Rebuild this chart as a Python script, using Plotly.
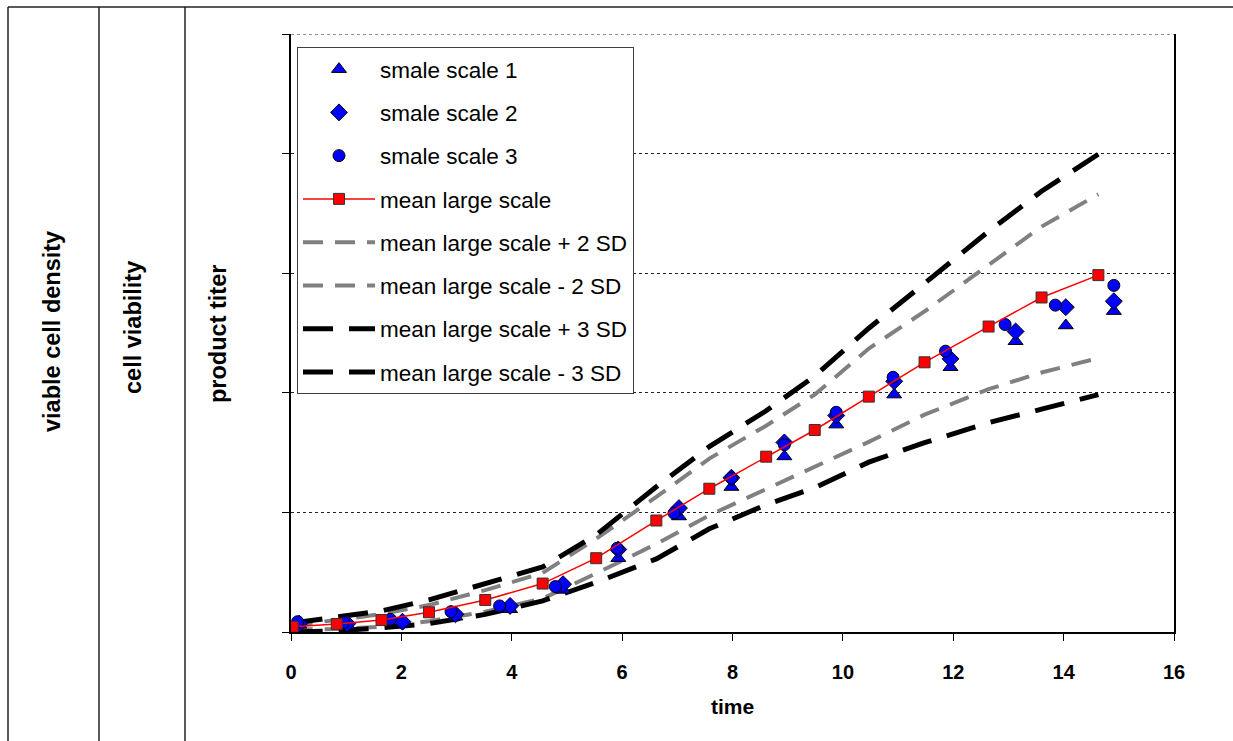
import plotly.graph_objects as go

# ---------------- data ----------------
x_mean = [0.03, 0.83, 1.64, 2.50, 3.52, 4.56, 5.53, 6.62, 7.58, 8.61, 9.49, 10.47, 11.48, 12.64, 13.60, 14.63]
y_mean = [0.044, 0.067, 0.10, 0.165, 0.268, 0.405, 0.617, 0.932, 1.198, 1.466, 1.689, 1.968, 2.255, 2.554, 2.797, 2.984]
y_plus2 = [0.06, 0.10, 0.15, 0.225, 0.35, 0.494, 0.78, 1.13, 1.45, 1.725, 1.985, 2.37, 2.68, 3.07, 3.39, 3.66]
y_minus2 = [0.02, 0.025, 0.045, 0.09, 0.17, 0.28, 0.49, 0.737, 0.976, 1.198, 1.38, 1.59, 1.817, 2.03, 2.17, 2.29]
y_plus3 = [0.075, 0.13, 0.176, 0.268, 0.40, 0.544, 0.812, 1.214, 1.55, 1.85, 2.14, 2.54, 2.915, 3.35, 3.685, 3.995]
y_minus3 = [0.0, 0.01, 0.035, 0.07, 0.147, 0.26, 0.415, 0.611, 0.863, 1.064, 1.206, 1.42, 1.583, 1.75, 1.863, 1.985]

x_small = [0.15, 1.02, 2.02, 2.98, 3.97, 4.93, 5.93, 7.03, 7.98, 8.94, 9.88, 10.93, 11.95, 13.13, 14.04, 14.91]
x_small3 = [0.12, 0.95, 1.80, 2.90, 3.78, 4.79, 5.91, 6.94, 7.98, 8.94, 9.88, 10.91, 11.86, 12.94, 13.85, 14.91]
y_small1 = [0.06, 0.055, 0.073, 0.128, 0.19, 0.352, 0.617, 0.966, 1.212, 1.468, 1.734, 1.985, 2.214, 2.431, 2.563, 2.683]
y_small2 = [0.07, 0.07, 0.086, 0.148, 0.218, 0.40, 0.69, 1.036, 1.29, 1.585, 1.81, 2.096, 2.284, 2.513, 2.716, 2.766]
y_small3 = [0.086, 0.078, 0.106, 0.17, 0.218, 0.38, 0.70, 0.994, 1.287, 1.566, 1.837, 2.13, 2.348, 2.571, 2.733, 2.898]

x_ticks = [0, 2, 4, 6, 8, 10, 12, 14, 16]
y_range = [0, 5]
panel_labels = ["viable cell density", "cell viability", "product titer"]

# ---------------- layout geometry ----------------
W, H = 1233, 741
ML, MR, MT, MB = 291, 59, 34, 109
PW, PH = W - ML - MR, H - MT - MB

def px(xp):
    return (xp - ML) / PW

def py(yp):
    return (H - MB - yp) / PH

FONT = "Liberation Sans, Arial, sans-serif"

fig = go.Figure()

gray_dash = "20px,12px"
black_dash = "30px,16px"

fig.add_trace(go.Scatter(x=x_mean, y=y_plus2, mode="lines", name="mean large scale + 2 SD",
                         line=dict(color="#808080", width=4, dash=gray_dash),
                         legendgroup="g5", legendrank=5))
fig.add_trace(go.Scatter(x=x_mean, y=y_minus2, mode="lines", name="mean large scale - 2 SD",
                         line=dict(color="#808080", width=4, dash=gray_dash),
                         legendgroup="g6", legendrank=6))
fig.add_trace(go.Scatter(x=x_mean, y=y_plus3, mode="lines", name="mean large scale + 3 SD",
                         line=dict(color="#000000", width=5, dash=black_dash),
                         legendgroup="g7", legendrank=7))
fig.add_trace(go.Scatter(x=x_mean, y=y_minus3, mode="lines", name="mean large scale - 3 SD",
                         line=dict(color="#000000", width=5, dash=black_dash),
                         legendgroup="g8", legendrank=8))

mk_line = dict(color="#000000", width=1)
fig.add_trace(go.Scatter(x=x_small, y=y_small1, mode="markers", name="smale scale 1",
                         marker=dict(symbol="triangle-up", size=13, color="#0000FF", line=mk_line),
                         legendgroup="g1", legendrank=1))
fig.add_trace(go.Scatter(x=x_small, y=y_small2, mode="markers", name="smale scale 2",
                         marker=dict(symbol="diamond", size=13, color="#0000FF", line=mk_line),
                         legendgroup="g2", legendrank=2))
fig.add_trace(go.Scatter(x=x_small3, y=y_small3, mode="markers", name="smale scale 3",
                         marker=dict(symbol="circle", size=12, color="#0000FF", line=mk_line),
                         legendgroup="g3", legendrank=3))
fig.add_trace(go.Scatter(x=x_mean, y=y_mean, mode="lines+markers", name="mean large scale",
                         line=dict(color="#FF0000", width=1.5),
                         marker=dict(symbol="square", size=11, color="#FF0000",
                                     line=dict(color="#333333", width=1)),
                         legendgroup="g4", legendrank=4))

# outer table-like frame
line_style = dict(color="#222222", width=1.5)
shapes = [
    dict(type="line", xref="paper", yref="paper", x0=px(8), x1=px(1233), y0=py(7), y1=py(7), line=line_style),
    dict(type="line", xref="paper", yref="paper", x0=px(8), x1=px(8), y0=py(7), y1=py(745), line=line_style),
    dict(type="line", xref="paper", yref="paper", x0=px(99), x1=px(99), y0=py(7), y1=py(745), line=line_style),
    dict(type="line", xref="paper", yref="paper", x0=px(185), x1=px(185), y0=py(7), y1=py(745), line=line_style),
    # dotted top edge of plot area (gridline at the top of the value range)
    dict(type="line", xref="paper", yref="y", x0=0, x1=1, y0=y_range[1], y1=y_range[1],
         line=dict(color="#222222", width=1, dash="3px,3px"), layer="below"),
]

label_x = [52, 133, 218]
label_y = [332, 328, 334]
annotations = []
for t, lx, ly in zip(panel_labels, label_x, label_y):
    annotations.append(dict(text=t, x=px(lx), y=py(ly), xref="paper", yref="paper",
                            showarrow=False, textangle=-90, xanchor="center", yanchor="middle",
                            font=dict(family=FONT, size=23.5, color="#000000", weight="bold")))

fig.update_layout(
    width=W, height=H,
    margin=dict(l=ML, r=MR, t=MT, b=MB, pad=0),
    paper_bgcolor="white", plot_bgcolor="white",
    font=dict(family=FONT, color="#000000"),
    showlegend=True,
    legend=dict(x=px(297), y=py(47), xanchor="left", yanchor="top",
                bgcolor="white", bordercolor="#404040", borderwidth=1,
                font=dict(family=FONT, size=22.5, color="#000000"),
                itemwidth=72, traceorder="grouped", tracegroupgap=11,
                itemclick=False),
    shapes=shapes,
    annotations=annotations,
    xaxis=dict(range=[0, 16], tickvals=x_ticks, ticktext=[str(v) for v in x_ticks],
               showgrid=False, zeroline=False, showline=True, linecolor="#000000", linewidth=1.5,
               ticks="outside", ticklen=7, tickcolor="#000000", tickwidth=1,
               ticklabelstandoff=14,
               tickfont=dict(family=FONT, size=20, color="#000000", weight="bold"),
               title=dict(text="time", standoff=18,
                          font=dict(family=FONT, size=21, color="#000000", weight="bold"))),
    yaxis=dict(range=y_range, dtick=1, tick0=0, showticklabels=False,
               showgrid=True, gridcolor="#222222", gridwidth=1, griddash="3px,3px",
               zeroline=False, showline=True, mirror=True, linecolor="#000000", linewidth=1.5,
               ticks="outside", ticklen=7, tickcolor="#000000", tickwidth=1),
)

fig.write_html("out.html")
